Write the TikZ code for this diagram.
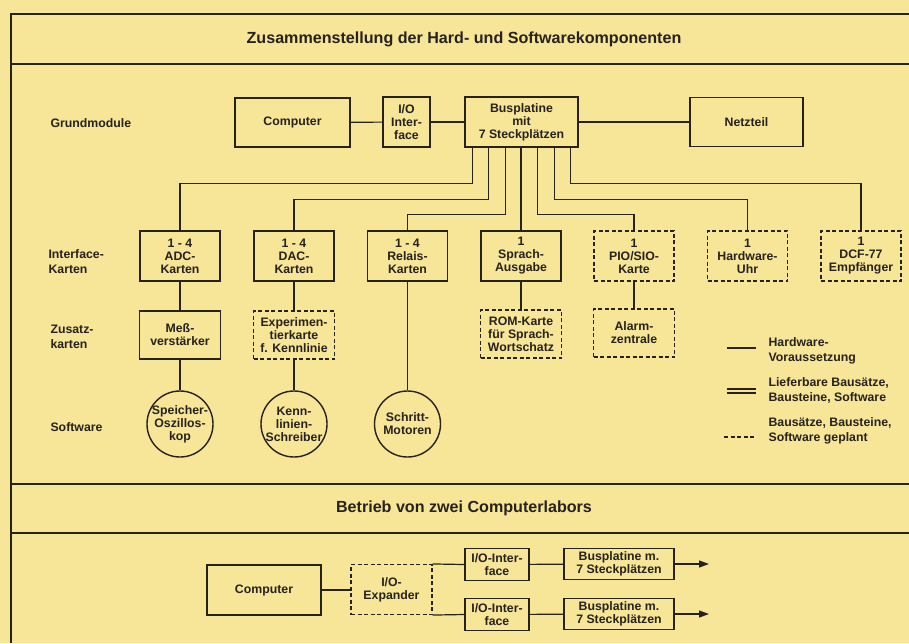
\documentclass[tikz,border=0pt]{standalone}
\usepackage{fontspec}
\setmainfont{Liberation Sans}
\usetikzlibrary{arrows.meta, positioning}
\definecolor{paper}{RGB}{247,229,152}
\definecolor{ink}{RGB}{38,34,30}
\tikzset{
  every node/.style={font=\bfseries\fontsize{12.3}{13}\selectfont, text=ink},
  hw/.style={draw=ink, line width=1.6pt, align=center, inner sep=1pt},
  plan/.style={hw, line width=1.1pt, dash pattern=on 4pt off 2.5pt},
  soft/.style={draw=ink, line width=1.4pt, circle, minimum size=66pt, inner sep=0pt},
  card/.style={minimum width=80pt, minimum height=50pt},
  extra/.style={minimum width=81pt, minimum height=48pt},
  rowlabel/.style={anchor=west, align=left, font=\bfseries\fontsize{12.3}{15}\selectfont},
  wire/.style={draw=ink, line width=1.2pt},
  framerule/.style={draw=ink, line width=1.8pt},
  arr/.style={wire, -{Triangle[length=10pt,width=7pt]}},
}

\begin{document}
\begin{tikzpicture}[
      x=1pt, y=-1pt,
      title/.style={font=\bfseries\fontsize{16.1}{18}\selectfont}
    ]
    \fill[paper] (0,0) rectangle (909,643);
    \useasboundingbox (0,0) rectangle (909,643);

    % Frame and title bands
    \draw[framerule] (909,14) -- (11,14) -- (11,643);
    \draw[framerule] (11,64) -- (909,64);
    \draw[framerule] (11,484) -- (909,484);
    \draw[framerule] (11,533) -- (909,533);

    \node[title] (title) at (464,39) {Zusammenstellung der Hard- und Softwarekomponenten};
    \node[title] (title2) at (464,508) {Betrieb von zwei Computerlabors};

    % Row labels
    \node[rowlabel] (lgrund) at (47,123) {Grundmodule};
    \node[rowlabel] (linter) at (45,262) {Interface-\\Karten};
    \node[rowlabel] (lzusatz) at (47,337) {Zusatz-\\karten};
    \node[rowlabel] (lsoft) at (47,427) {Software};

    % Grundmodule
    \node[hw, minimum width=115pt, minimum height=49pt] (computer) at (292.5,122.5) {Computer};
    \node[hw, minimum width=47pt, minimum height=50pt] (io) at (406.5,122) {I/O\\Inter-\\face};
    \node[hw, minimum width=113pt, minimum height=50pt] (bus) at (521.5,122) {Busplatine\\mit\\7 Steckplätzen};
    \node[hw, minimum width=113pt, minimum height=49pt] (netz) at (746.5,122) {Netzteil};

    \draw[wire] (computer) -- (io);
    \draw[wire] (io) -- (bus);
    \draw[wire] (bus) -- (netz);

    % Interface cards
    \node[hw, card] (adc) at (180,256) {1 - 4\\ADC-\\Karten};
    \node[hw, card] (dac) at (294,256) {1 - 4\\DAC-\\Karten};
    \node[hw, card] (relais) at (407.5,256) {1 - 4\\Relais-\\Karten};
    \node[hw, card] (sprach) at (521,256) {1\\Sprach-\\Ausgabe};
    \node[plan, card] (pio) at (634,256) {1\\PIO/SIO-\\Karte};
    \node[plan, card] (uhr) at (747.5,256) {1\\Hardware-\\Uhr};
    \node[plan, card] (dcf) at (861,256) {1\\DCF-77\\Empfänger};

    % Bus lines
    \draw[wire] ([xshift=-49pt]bus.south) -- ++(0,36) -| (adc.north);
    \draw[wire] ([xshift=-33pt]bus.south) -- ++(0,52) -| (dac.north);
    \draw[wire] ([xshift=-16pt]bus.south) -- ++(0,67) -| (relais.north);
    \draw[wire] (bus.south -| sprach.north) -- (sprach.north);
    \draw[wire] ([xshift=16pt]bus.south) -- ++(0,67) -| (pio.north);
    \draw[wire] ([xshift=33pt]bus.south) -- ++(0,52) -| (uhr.north);
    \draw[wire] ([xshift=49pt]bus.south) -- ++(0,36) -| (dcf.north);

    % Zusatzkarten
    \node[hw, extra] (mess) at (180,335) {Meß-\\verstärker};
    \node[plan, extra] (exp) at (294,335) {Experimen-\\tierkarte\\f. Kennlinie};
    \node[plan, extra] (rom) at (521,334) {ROM-Karte\\für Sprach-\\Wortschatz};
    \node[plan, extra] (alarm) at (634,333) {Alarm-\\zentrale};

    % Software
    \node[soft, label={[align=center]center:Speicher-\\Oszillos-\\kop}] (speicher) at (180,424) {};
    \node[soft, label={[align=center]center:Kenn-\\linien-\\Schreiber}] (kenn) at (294,424) {};
    \node[soft, label={[align=center]center:Schritt-\\Motoren}] (schritt) at (407.5,424) {};

    \draw[wire] (adc) -- (mess);
    \draw[wire] (mess) -- (speicher);
    \draw[wire] (dac) -- (exp);
    \draw[wire] (exp) -- (kenn);
    \draw[wire] (relais) -- (schritt);
    \draw[wire] (sprach) -- (rom);
    \draw[wire] (pio) -- (alarm);

    % Legend
    \coordinate (keyhw) at (727,348);
    \coordinate (keykit) at (727,391);
    \coordinate (keyplan) at (724,437);
    \draw[wire, line width=1.5pt] (keyhw) -- ++(29,0);
    \draw[draw=ink, double=paper, double distance=2pt, line width=1.8pt] (keykit) -- ++(29,0);
    \draw[wire, dash pattern=on 4pt off 2.5pt] (keyplan) -- ++(32,0);
    \node[rowlabel] (keyhwtext) at (765,351) {Hardware-\\Voraussetzung};
    \node[rowlabel] (keykittext) at (765,390) {Lieferbare Bausätze,\\Bausteine, Software};
    \node[rowlabel] (keyplantext) at (765,431) {Bausätze, Bausteine,\\Software geplant};

    % Two computer labs
    \node[hw, minimum width=114pt, minimum height=50pt] (computer2) at (264,590) {Computer};
    \node[plan, minimum width=81pt, minimum height=50pt] (expander) at (391.5,589.5) {I/O-\\Expander};
    \node[hw, minimum width=64pt, minimum height=32pt] (ioa) at (497,564.5) {I/O-Inter-\\face};
    \node[hw, minimum width=64pt, minimum height=32pt] (iob) at (497,614.5) {I/O-Inter-\\face};
    \node[hw, minimum width=110pt, minimum height=31pt] (busa) at (619,564) {Busplatine m.\\7 Steckplätzen};
    \node[hw, minimum width=110pt, minimum height=31pt] (busb) at (619,614) {Busplatine m.\\7 Steckplätzen};
    \coordinate (enda) at (709,564);
    \coordinate (endb) at (709,614);

    \draw[wire] (computer2) -- (computer2 -| expander.west);
    \draw[wire] (expander.north east) -- (ioa.west);
    \draw[wire] (expander.south east) -- (iob.west);
    \draw[wire] (ioa) -- (busa);
    \draw[wire] (iob) -- (busb);
    \draw[arr] (busa) -- (enda);
    \draw[arr] (busb) -- (endb);

\end{tikzpicture}
\end{document}
